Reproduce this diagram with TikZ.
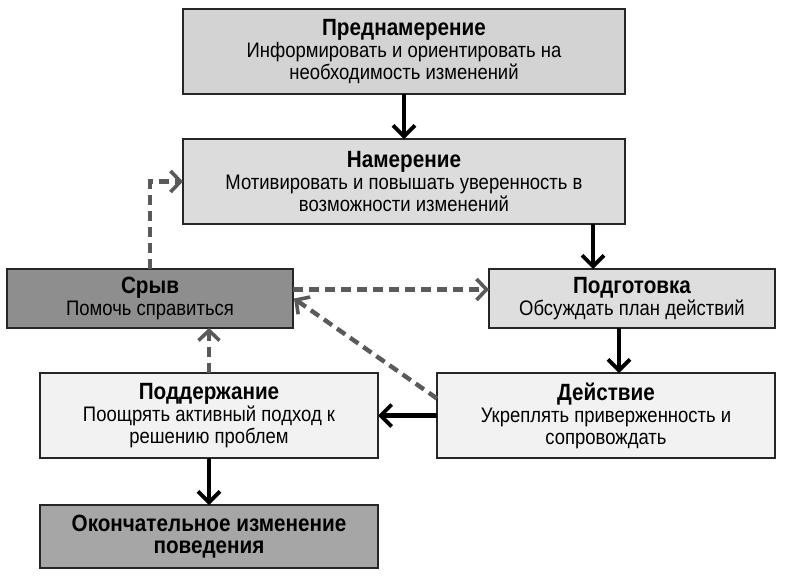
\documentclass[tikz,border=0pt]{standalone}
\usepackage{fontspec}
\setmainfont{Liberation Sans}[FakeStretch=0.88]
\usetikzlibrary{arrows.meta,calc}
\definecolor{cPre}{HTML}{D3D3D3}
\definecolor{cNam}{HTML}{DCDCDC}
\definecolor{cSry}{HTML}{8E8E8E}
\definecolor{cPod}{HTML}{DEDEDE}
\definecolor{cLite}{HTML}{F2F2F2}
\definecolor{cOk}{HTML}{A6A6A6}
\definecolor{cDash}{HTML}{5A5A5A}
\tikzset{
  stage/.style={draw=black!85, line width=1.6pt, inner sep=0pt, outer sep=0pt,
    anchor=north west, align=center, font=\fontsize{21}{22}\selectfont},
  flow/.style={line width=4.2pt, black,
    -{Straight Barb[length=11pt,width=22pt,line width=3.8pt]}},
  back/.style={line width=4.4pt, cDash, dash pattern=on 10pt off 6pt,
    -{Straight Barb[length=10pt,width=21pt,line width=3.6pt]}}
}
\newcommand{\ttlline}[1]{{\fontsize{23.5}{22}\selectfont\bfseries #1}}
\begin{document}
\begin{tikzpicture}[x=1pt,y=-1pt]
\useasboundingbox[fill=white] (0,0) rectangle (785,579);
\node[stage, fill=cPre, minimum width=442pt, minimum height=85pt] (pre) at (183,9)
  {\ttlline{Преднамерение}\\Информировать и ориентировать на\\необходимость изменений};
\node[stage, fill=cNam, minimum width=442pt, minimum height=85pt] (nam) at (183,139)
  {\ttlline{Намерение}\\Мотивировать и повышать уверенность в\\возможности изменений};
\node[stage, fill=cSry, minimum width=286pt, minimum height=59pt] (sry) at (7,269)
  {\ttlline{Срыв}\\Помочь справиться};
\node[stage, fill=cPod, minimum width=286pt, minimum height=59pt] (pod) at (489,269)
  {\ttlline{Подготовка}\\Обсуждать план действий};
\node[stage, fill=cLite, minimum width=338pt, minimum height=85pt] (dei) at (437,373)
  {\ttlline{Действие}\\Укреплять приверженность и\\сопровождать};
\node[stage, fill=cLite, minimum width=338pt, minimum height=85pt] (pod2) at (40,373)
  {\ttlline{Поддержание}\\Поощрять активный подход к\\решению проблем};
\node[stage, fill=cOk, minimum width=338pt, minimum height=63pt] (ok) at (40,505)
  {\ttlline{Окончательное изменение}\\\ttlline{поведения}};
% solid flow
\draw[flow] (pre.south) -- (nam.north);
\draw[flow] ([xshift=-32pt]nam.south east) -- ([xshift=-32pt]nam.south east |- pod.north);
\draw[flow] ([xshift=-13pt]pod.south) -- ([xshift=-13pt]pod.south |- dei.north);
\draw[flow] (dei.west) -- (pod2.east);
\draw[flow] (pod2.south) -- (ok.north);
% dashed returns
\draw[back] (pod2.north) -- (pod2.north |- sry.south);
\draw[back] ([yshift=9pt]sry.east) -- ([yshift=9pt]pod.west);
\draw[back] ([yshift=17pt]dei.west) -- ([xshift=1pt]sry.east);
\draw[back] (sry.north) |- (nam.west);
\end{tikzpicture}
\end{document}
